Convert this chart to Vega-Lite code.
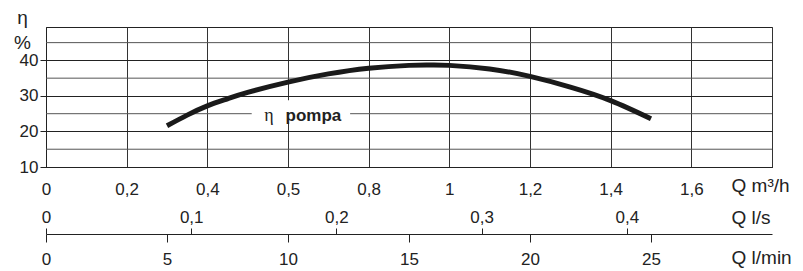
{
  "$schema": "https://vega.github.io/schema/vega-lite/v6.json",
  "autosize": "none",
  "width": 726,
  "height": 140,
  "padding": {"left": 46, "top": 27, "right": 31, "bottom": 104},
  "background": "white",
  "config": {
    "view": {"stroke": "#222", "strokeWidth": 1},
    "axis": {
      "labelFont": "Liberation Sans",
      "labelFontSize": 17,
      "labelColor": "#222",
      "titleFont": "Liberation Sans",
      "titleFontSize": 19,
      "titleFontWeight": "normal",
      "titleColor": "#222",
      "domainColor": "#222",
      "tickColor": "#222",
      "labelFlush": false,
      "labelOverlap": false
    }
  },
  "resolve": {"scale": {"x": "independent"}},
  "layer": [
    {
      "layer": [
        {
          "data": {"values": [{"eta": 15}, {"eta": 25}, {"eta": 35}, {"eta": 45}]},
          "mark": {"type": "rule", "color": "#555", "strokeWidth": 1},
          "encoding": {
            "y": {"field": "eta", "type": "quantitative"}
          }
        },
        {
          "data": {"values": [{"q": 0.51, "q2": 0.754, "eta": 22.5, "eta2": 28.8}]},
          "mark": {"type": "rect", "color": "white"},
          "encoding": {
            "x": {"field": "q", "type": "quantitative"},
            "x2": {"field": "q2"},
            "y": {"field": "eta", "type": "quantitative"},
            "y2": {"field": "eta2"}
          }
        },
        {
          "data": {"values": [
            {"q": 0.3, "eta": 21.6},
            {"q": 0.35, "eta": 24.6},
            {"q": 0.4, "eta": 27.2},
            {"q": 0.45, "eta": 29.2},
            {"q": 0.5, "eta": 31.0},
            {"q": 0.6, "eta": 33.9},
            {"q": 0.7, "eta": 36.2},
            {"q": 0.8, "eta": 37.8},
            {"q": 0.9, "eta": 38.6},
            {"q": 0.95, "eta": 38.7},
            {"q": 1.0, "eta": 38.6},
            {"q": 1.1, "eta": 37.6},
            {"q": 1.2, "eta": 35.5},
            {"q": 1.3, "eta": 32.5},
            {"q": 1.4, "eta": 28.7},
            {"q": 1.5, "eta": 23.6}
          ]},
          "mark": {"type": "line", "color": "#1a1a1a", "strokeWidth": 5, "interpolate": "natural", "strokeCap": "butt"},
          "encoding": {
            "x": {
              "field": "q", "type": "quantitative",
              "scale": {"domain": [0, 1.8], "nice": false, "zero": false},
              "axis": {
                "values": [0, 0.2, 0.4, 0.6, 0.8, 1, 1.2, 1.4, 1.6, 1.8],
                "grid": true, "gridColor": "#333", "gridWidth": 1,
                "ticks": false, "tickSize": 0, "labelPadding": 14,
                "format": "~g",
                "labelExpr": "datum.value == 1.8 ? '' : (abs(datum.value - 0.6) < 0.001 ? '0,5' : replace(datum.label, '.', ','))",
                "title": "Q m³/h",
                "titleX": 685, "titleY": 24, "titleAlign": "left", "titleBaseline": "alphabetic", "titleAngle": 0
              }
            },
            "y": {
              "field": "eta", "type": "quantitative",
              "scale": {"domain": [10, 49.4], "nice": false, "zero": false},
              "axis": {
                "values": [10, 20, 30, 40],
                "grid": true,
                "gridColor": "#222",
                "tickSize": 6, "labelPadding": 2,
                "format": "d",
                "title": ["η", "%"],
                "titleAngle": 0, "titleX": -24, "titleY": -4, "titleAlign": "center",
                "titleBaseline": "alphabetic", "titleFontSize": 19, "titleLineHeight": 25
              }
            }
          }
        },
        {
          "data": {"values": [{"q": 0.553, "eta": 24.4, "t": "η"}]},
          "mark": {"type": "text", "font": "Liberation Serif", "fontSize": 18, "color": "#222", "baseline": "middle"},
          "encoding": {
            "x": {"field": "q", "type": "quantitative"},
            "y": {"field": "eta", "type": "quantitative"},
            "text": {"field": "t"}
          }
        },
        {
          "data": {"values": [{"q": 0.663, "eta": 24.4, "t": "pompa"}]},
          "mark": {"type": "text", "font": "Liberation Sans", "fontSize": 17, "fontWeight": "bold", "color": "#222", "baseline": "middle"},
          "encoding": {
            "x": {"field": "q", "type": "quantitative"},
            "y": {"field": "eta", "type": "quantitative"},
            "text": {"field": "t"}
          }
        }
      ]
    },
    {
      "data": {"values": [{"ls": 0}, {"ls": 0.5}]},
      "mark": {"type": "point", "opacity": 0},
      "encoding": {
        "x": {
          "field": "ls", "type": "quantitative",
          "scale": {"domain": [0, 0.5], "nice": false},
          "axis": {
            "orient": "top", "offset": -207,
            "values": [0, 0.1, 0.2, 0.3, 0.4],
            "domain": false, "grid": false,
            "tickSize": 6, "labelPadding": 2,
            "format": "~g",
            "labelExpr": "replace(datum.label, '.', ',')",
            "title": "Q l/s",
            "titleX": 685, "titleY": -11, "titleAlign": "left", "titleBaseline": "alphabetic", "titleAngle": 0
          }
        }
      }
    },
    {
      "data": {"values": [{"lmin": 0}, {"lmin": 30}]},
      "mark": {"type": "point", "opacity": 0},
      "encoding": {
        "x": {
          "field": "lmin", "type": "quantitative",
          "scale": {"domain": [0, 30], "nice": false},
          "axis": {
            "orient": "bottom", "offset": 67,
            "values": [0, 5, 10, 15, 20, 25],
            "domain": true, "grid": false,
            "tickSize": 8, "labelPadding": 9,
            "format": "d",
            "title": "Q l/min",
            "titleX": 685, "titleY": 29, "titleAlign": "left", "titleBaseline": "alphabetic", "titleAngle": 0
          }
        }
      }
    }
  ]
}
